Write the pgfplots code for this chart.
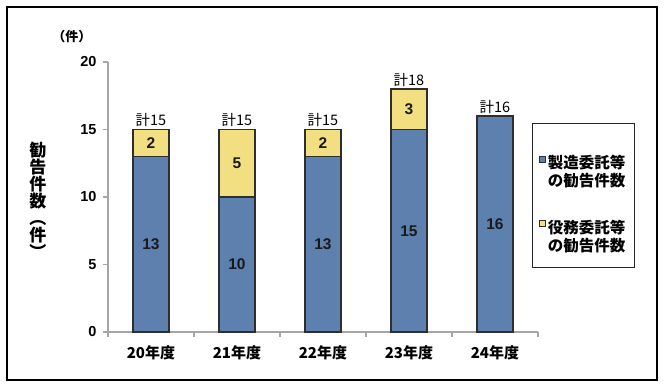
\documentclass[border=0pt]{standalone}
\usepackage{pgfplots}
\pgfplotsset{compat=1.18}
\usepackage{fontspec}
\setmainfont{Noto Sans CJK JP}
\newfontfamily\numfont{Liberation Sans}
\definecolor{barblue}{HTML}{5E80AF}
\definecolor{baryellow}{HTML}{F2DF82}
\definecolor{axisgray}{HTML}{A6A6A6}
\definecolor{edge}{HTML}{2E2E2E}

\begin{document}
\begin{tikzpicture}
\useasboundingbox (-108pt,-59pt) rectangle (559pt,332pt);
\draw[black, line width=1.4pt] (-101pt,325pt) rectangle (549pt,-48pt);
\begin{axis}[
  at={(0pt,0pt)}, anchor=south west,
  scale only axis, width=430pt, height=270pt,
  xmin=-0.5, xmax=4.5, ymin=0, ymax=20,
  ybar, bar width=36pt, bar shift=0pt,
  axis x line*=bottom, axis y line*=left,
  axis line style={axisgray, line width=1.3pt},
  xtick={0,1,2,3,4},
  xticklabels={20年度,21年度,22年度,23年度,24年度},
  major x tick style={draw=none},
  minor xtick={-0.5,0.5,1.5,2.5,3.5,4.5},
  minor x tick style={axisgray, line width=1.3pt},
  minor tick length=5pt,
  ytick={0,5,10,15,20},
  major tick length=5pt,
  y tick style={axisgray, line width=1.3pt},
  tick align=outside,
  /pgf/number format/assume math mode=true,
  yticklabel style={font=\numfont\bfseries\fontsize{14.5}{15}\selectfont, xshift=-3pt},
  xticklabel style={font=\bfseries\fontsize{15}{15}\selectfont, yshift=-5pt},
  legend style={at={(0.986,0.774)}, anchor=north west, draw=black!85, line width=0.8pt,
    inner xsep=7pt, inner ysep=30pt, row sep=46pt,
    font=\bfseries\fontsize{15.5}{15}\selectfont, cells={anchor=west}},
  legend image code/.code={\draw[#1, line width=0.6pt] (1pt,1pt) rectangle (7pt,7pt);},
]
\addlegendimage{fill=barblue, draw=edge}
\addlegendentry{\begin{tabular}[t]{@{}l@{}}製造委託等\\の勧告件数\end{tabular}}
\addlegendimage{fill=baryellow, draw=edge}
\addlegendentry{\begin{tabular}[t]{@{}l@{}}役務委託等\\の勧告件数\end{tabular}}

% totals (yellow = service part on top of manufacturing part)
\addplot[forget plot, fill=baryellow, draw=edge, line width=1.1pt,
  nodes near coords, point meta=explicit symbolic,
  every node near coord/.append style={font=\fontsize{14.5}{14.5}\selectfont, anchor=south, inner sep=2pt, text=black}]
  coordinates {(0,15)[計15] (1,15)[計15] (2,15)[計15] (3,18)[計18] (4,16)[計16]};
% manufacturing
\addplot[forget plot, fill=barblue, draw=edge, line width=1.1pt]
  coordinates {(0,13) (1,10) (2,13) (3,15) (4,16)};
% labels of manufacturing segments
\addplot[forget plot, draw=none, fill=none, nodes near coords,
  point meta=explicit symbolic,
  every node near coord/.append style={font=\numfont\bfseries\fontsize{15.5}{15.5}\selectfont, anchor=center, text=black!90}]
  coordinates {(0,6.5)[13] (1,5)[10] (2,6.5)[13] (3,7.5)[15] (4,8)[16]};
% labels of service segments
\addplot[forget plot, draw=none, fill=none, nodes near coords,
  point meta=explicit symbolic,
  every node near coord/.append style={font=\numfont\bfseries\fontsize{15.5}{15.5}\selectfont, anchor=center, text=black!90}]
  coordinates {(0,14)[2] (1,12.5)[5] (2,14)[2] (3,16.5)[3]};
\end{axis}
\node[font=\bfseries\fontsize{13}{13}\selectfont] at (-36pt,295pt) {（件）};
\node[font=\bfseries\fontsize{17}{17}\selectfont, align=center] at (-70pt,132pt)
  {勧\\告\\件\\数\\︵\\件\\︶};
\end{tikzpicture}
\end{document}
